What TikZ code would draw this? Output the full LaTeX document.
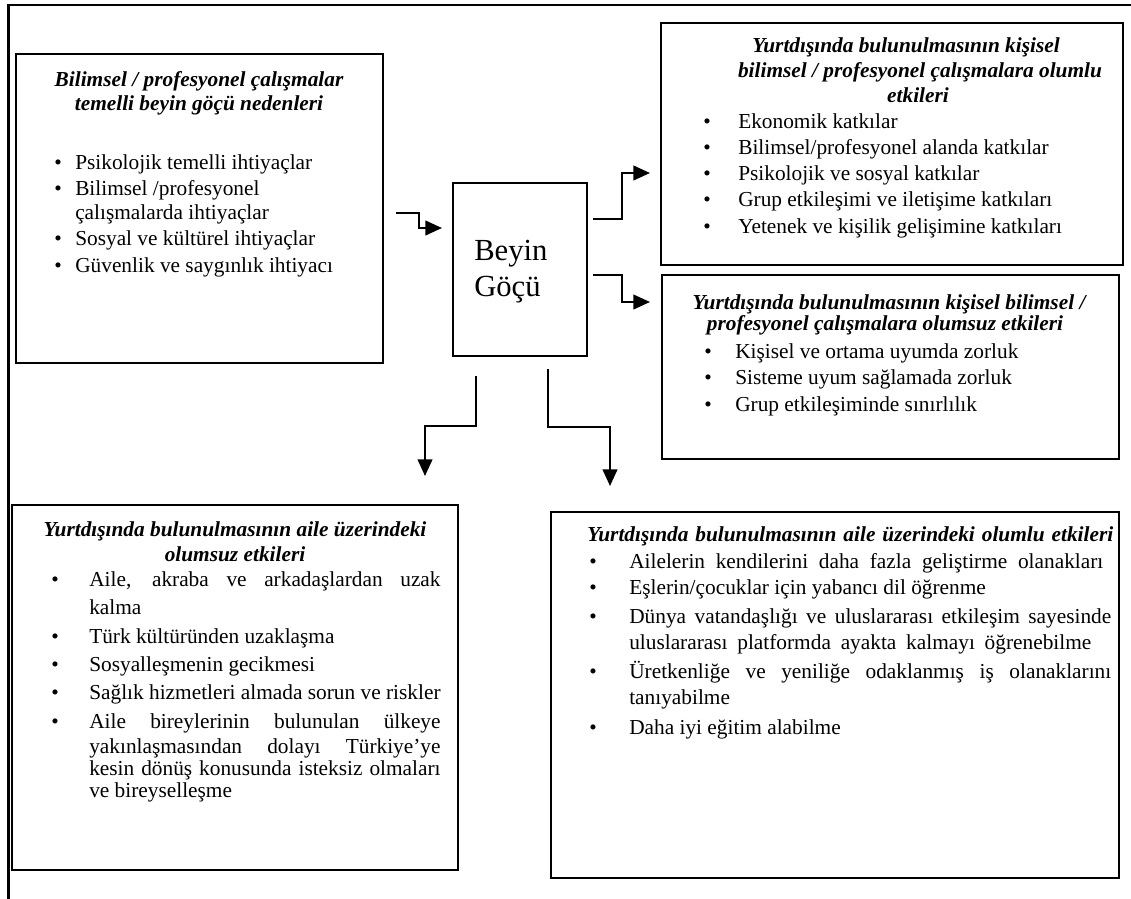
\documentclass[tikz,border=0pt]{standalone}
\usepackage{fontspec}
\setmainfont{Liberation Serif}
\usetikzlibrary{arrows.meta,fit}
\tikzset{
  outer/.style={line width=2.2pt},
  box/.style={draw, line width=1.4pt, inner sep=0pt},
  arr/.style={line width=1.6pt, -{Triangle[length=12.5pt,width=11pt]}},
  body/.style={inner sep=0pt, font=\fontsize{16}{19}\selectfont},
  ln/.style={body, anchor=base west},
  bul/.style={body, anchor=base},
  hd/.style={inner sep=0pt, anchor=base, font=\fontsize{16}{19}\selectfont\bfseries\itshape},
  big/.style={inner sep=0pt, anchor=base west, font=\fontsize{23}{27}\selectfont},
}
\newcommand{\jbl}[1]{\makebox[263.5pt][s]{#1}}
\newcommand{\jbr}[1]{\makebox[361.5pt][s]{#1}}
\newcommand{\jw}[2]{\makebox[#1][s]{#2}}
\begin{document}
\begin{tikzpicture}[x=0.75pt,y=-0.75pt]
\useasboundingbox (0,0) rectangle (1131,899);
\draw[outer] (8.5,899) -- (8.5,5) -- (1131,5);

% boxes
\node[box, fit={(16,54)(383,363)}] (bA) {};
\node[box, line width=1.1pt, fit={(453,183)(587,356)}] (bG) {};
\node[box, fit={(661,23)(1123,265)}] (bT1) {};
\node[box, fit={(662,275)(1119,459)}] (bT2) {};
\node[box, fit={(12,505)(458,870)}] (bBL) {};
\node[box, fit={(551,512)(1119,878)}] (bBR) {};

% Beyin Göçü
\node[big] (g1) at (474,260) {Beyin};
\node[big] (g2) at (474,296) {Göçü};

% box A
\node[hd] (aT1) at (199,86) {Bilimsel / profesyonel çalışmalar};
\node[hd] (aT2) at (199,110) {temelli beyin göçü nedenleri};
\node[bul] (aB1) at (58,169) {\textbullet};
\node[ln] (aL1) at (75,169) {Psikolojik temelli ihtiyaçlar};
\node[bul] (aB2) at (58,195) {\textbullet};
\node[ln] (aL2) at (75,195) {Bilimsel /profesyonel};
\node[ln] (aL2b) at (75,219) {çalışmalarda ihtiyaçlar};
\node[bul] (aB3) at (58,245) {\textbullet};
\node[ln] (aL3) at (75,245) {Sosyal ve kültürel ihtiyaçlar};
\node[bul] (aB4) at (58,272) {\textbullet};
\node[ln] (aL4) at (75,272) {Güvenlik ve saygınlık ihtiyacı};

% box T1
\node[hd] (tT1) at (906,53) {Yurtdışında bulunulmasının kişisel};
\node[hd] (tT2) at (920,78) {bilimsel / profesyonel çalışmalara olumlu};
\node[hd] (tT3) at (918,103) {etkileri};
\node[bul] (tB1) at (707,128) {\textbullet};
\node[ln] (tL1) at (738,128) {Ekonomik katkılar};
\node[bul] (tB2) at (707,154) {\textbullet};
\node[ln] (tL2) at (738,154) {Bilimsel/profesyonel alanda katkılar};
\node[bul] (tB3) at (707,180) {\textbullet};
\node[ln] (tL3) at (738,180) {Psikolojik ve sosyal katkılar};
\node[bul] (tB4) at (707,206) {\textbullet};
\node[ln] (tL4) at (738,206) {Grup etkileşimi ve iletişime katkıları};
\node[bul] (tB5) at (707,233) {\textbullet};
\node[ln] (tL5) at (738,233) {Yetenek ve kişilik gelişimine katkıları};

% box T2
\node[hd] (uT1) at (889,309) {Yurtdışında bulunulmasının kişisel bilimsel /};
\node[hd] (uT2) at (885,330) {profesyonel çalışmalara olumsuz etkileri};
\node[bul] (uB1) at (708,358) {\textbullet};
\node[ln] (uL1) at (735,358) {Kişisel ve ortama uyumda zorluk};
\node[bul] (uB2) at (708,384) {\textbullet};
\node[ln] (uL2) at (735,384) {Sisteme uyum sağlamada zorluk};
\node[bul] (uB3) at (708,411) {\textbullet};
\node[ln] (uL3) at (735,411) {Grup etkileşiminde sınırlılık};

% box BL
\node[hd] (lT1) at (235,536) {Yurtdışında bulunulmasının aile üzerindeki};
\node[hd] (lT2) at (235,561) {olumsuz etkileri};
\node[bul] (lB1) at (55,586) {\textbullet};
\node[ln] (lL1) at (89,586) {\jbl{Aile, akraba ve arkadaşlardan uzak}};
\node[ln] (lL1b) at (89,614) {kalma};
\node[bul] (lB2) at (55,643) {\textbullet};
\node[ln] (lL2) at (89,643) {Türk kültüründen uzaklaşma};
\node[bul] (lB3) at (55,671) {\textbullet};
\node[ln] (lL3) at (89,671) {Sosyalleşmenin gecikmesi};
\node[bul] (lB4) at (55,699) {\textbullet};
\node[ln] (lL4) at (89,699) {Sağlık hizmetleri almada sorun ve riskler};
\node[bul] (lB5) at (55,728) {\textbullet};
\node[ln] (lL5) at (89,728) {\jbl{Aile bireylerinin bulunulan ülkeye}};
\node[ln] (lL5b) at (89,753) {\jbl{yakınlaşmasından dolayı Türkiye’ye}};
\node[ln] (lL5c) at (89,775) {\jbl{kesin dönüş konusunda isteksiz olmaları}};
\node[ln] (lL5d) at (89,797) {ve bireyselleşme};

% box BR
\node[hd, anchor=base west] (rT1) at (587,541) {\jw{394.5pt}{Yurtdışında bulunulmasının aile üzerindeki olumlu etkileri}};
\node[bul] (rB1) at (593,568) {\textbullet};
\node[ln] (rL1) at (629,568) {\jw{355.5pt}{Ailelerin kendilerini daha fazla geliştirme olanakları}};
\node[bul] (rB2) at (593,594) {\textbullet};
\node[ln] (rL2) at (629,594) {Eşlerin/çocuklar için yabancı dil öğrenme};
\node[bul] (rB3) at (593,623) {\textbullet};
\node[ln] (rL3) at (629,623) {\jbr{Dünya vatandaşlığı ve uluslararası etkileşim sayesinde}};
\node[ln] (rL3b) at (629,649) {\jw{346.5pt}{uluslararası platformda ayakta kalmayı öğrenebilme}};
\node[bul] (rB4) at (593,678) {\textbullet};
\node[ln] (rL4) at (629,678) {\jbr{Üretkenliğe ve yeniliğe odaklanmış iş olanaklarını}};
\node[ln] (rL4b) at (629,704) {tanıyabilme};
\node[bul] (rB5) at (593,734) {\textbullet};
\node[ln] (rL5) at (629,734) {Daha iyi eğitim alabilme};

% connectors
\coordinate (p1s) at (396,213); \coordinate (p1e) at (442,228);
\coordinate (p2s) at (593,219); \coordinate (p2e) at (650,173);
\coordinate (p3s) at (593,275); \coordinate (p3e) at (650,302);
\coordinate (p4s) at (476,376); \coordinate (p4e) at (425,476);
\coordinate (p5s) at (548,369); \coordinate (p5e) at (610,486);
\draw[arr] (p1s) -- ++(23,0) |- (p1e);
\draw[arr] (p2s) -- ++(29,0) |- (p2e);
\draw[arr] (p3s) -- ++(29,0) |- (p3e);
\draw[arr] (p4s) -- ++(0,50) -| (p4e);
\draw[arr] (p5s) -- ++(0,58) -| (p5e);
\end{tikzpicture}
\end{document}
